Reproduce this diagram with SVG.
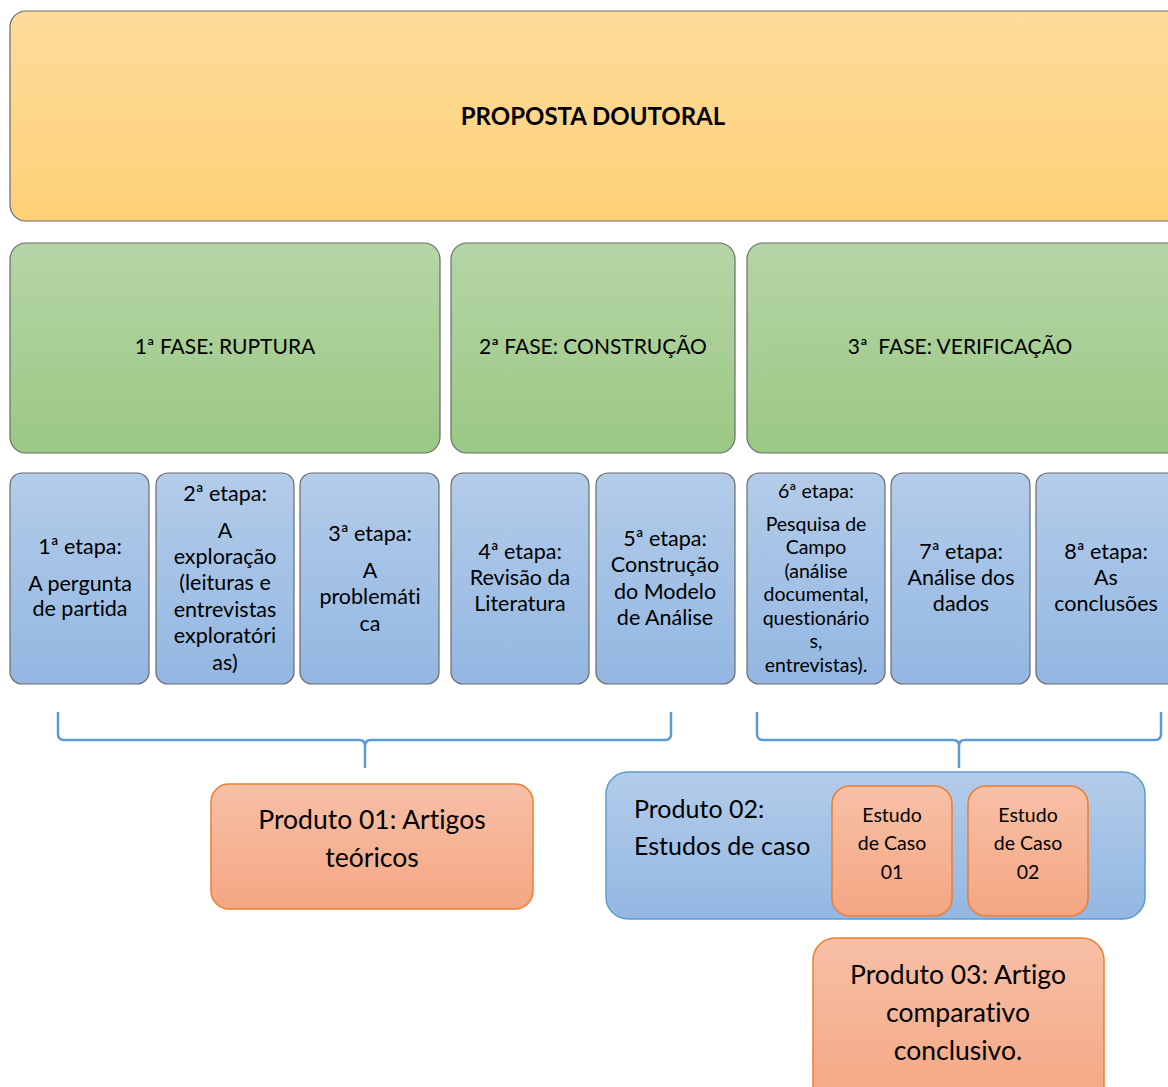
<svg xmlns="http://www.w3.org/2000/svg" width="1168" height="1087" viewBox="0 0 1168 1087">
  <defs>
    <linearGradient id="gGold" x1="0" y1="0" x2="0" y2="1">
      <stop offset="0" stop-color="#fedb9c"/>
      <stop offset="1" stop-color="#fed177"/>
    </linearGradient>
    <linearGradient id="gGreen" x1="0" y1="0" x2="0" y2="1">
      <stop offset="0" stop-color="#b5d5a6"/>
      <stop offset="1" stop-color="#9bc884"/>
    </linearGradient>
    <linearGradient id="gBlue" x1="0" y1="0" x2="0" y2="1">
      <stop offset="0" stop-color="#b3cce9"/>
      <stop offset="1" stop-color="#93b7e2"/>
    </linearGradient>
    <linearGradient id="gOrange" x1="0" y1="0" x2="0" y2="1">
      <stop offset="0" stop-color="#f7c0a6"/>
      <stop offset="1" stop-color="#f4a683"/>
    </linearGradient>
  </defs>
  <style>
    text { font-family: Lato, "Open Sans", "Liberation Sans", sans-serif; fill: #000; text-anchor: middle; font-variant-ligatures: none; font-feature-settings: "liga" 0, "dlig" 0; }
    .gold { fill: url(#gGold); stroke: #6b6b6b; stroke-width: 1.2; }
    .phase { fill: url(#gGreen); stroke: #6b6b6b; stroke-width: 1.2; }
    .stage { fill: url(#gBlue); stroke: #6b6b6b; stroke-width: 1.2; }
    .prod { fill: url(#gOrange); stroke: #ed7d31; stroke-width: 1.5; }
    .prodBlue { fill: url(#gBlue); stroke: #5b9bd5; stroke-width: 1.5; }
    .brace { fill: none; stroke: #5b9bd5; stroke-width: 2.5; }
    .ph { font-size: 21px; }
    .st { font-size: 21.5px; }
    .st6 { font-size: 19.5px; }
    .cs { font-size: 19.5px; }
    .pr { font-size: 26.5px; }
    .pr2 { font-size: 25px; text-anchor: start; }
  </style>

  <!-- Title -->
  <g id="proposta">
    <rect class="gold" x="10" y="11" width="1180" height="210" rx="16"/>
    <text x="593" y="125" font-size="24" font-weight="bold">PROPOSTA DOUTORAL</text>
  </g>

  <!-- Phases -->
  <g id="fase1">
    <rect class="phase" x="10" y="243" width="430" height="210" rx="16"/>
    <text class="ph" x="225" y="354">1ª FASE: RUPTURA</text>
  </g>
  <g id="fase2">
    <rect class="phase" x="451" y="243" width="284" height="210" rx="16"/>
    <text class="ph" x="593" y="354">2ª FASE: CONSTRUÇÃO</text>
  </g>
  <g id="fase3">
    <rect class="phase" x="747" y="243" width="440" height="210" rx="16"/>
    <text class="ph" x="960" y="354" xml:space="preserve">3ª  FASE: VERIFICAÇÃO</text>
  </g>

  <!-- Stages -->
  <g id="etapa1">
    <rect class="stage" x="10" y="473" width="139" height="211" rx="12"/>
    <text class="st" x="80" y="554">1ª etapa:</text>
    <text class="st" x="80" y="591">A pergunta</text>
    <text class="st" x="80" y="616">de partida</text>
  </g>
  <g id="etapa2">
    <rect class="stage" x="156" y="473" width="138" height="211" rx="12"/>
    <text class="st" x="225" y="501">2ª etapa:</text>
    <text class="st" x="225" y="538">A</text>
    <text class="st" x="225" y="564">exploração</text>
    <text class="st" x="225" y="590">(leituras e</text>
    <text class="st" x="225" y="617">entrevistas</text>
    <text class="st" x="225" y="643">exploratóri</text>
    <text class="st" x="225" y="670">as)</text>
  </g>
  <g id="etapa3">
    <rect class="stage" x="300" y="473" width="139" height="211" rx="12"/>
    <text class="st" x="370" y="541">3ª etapa:</text>
    <text class="st" x="370" y="578">A</text>
    <text class="st" x="370" y="604">problemáti</text>
    <text class="st" x="370" y="631">ca</text>
  </g>
  <g id="etapa4">
    <rect class="stage" x="451" y="473" width="138" height="211" rx="12"/>
    <text class="st" x="520" y="559">4ª etapa:</text>
    <text class="st" x="520" y="585">Revisão da</text>
    <text class="st" x="520" y="611">Literatura</text>
  </g>
  <g id="etapa5">
    <rect class="stage" x="596" y="473" width="139" height="211" rx="12"/>
    <text class="st" x="665" y="546">5ª etapa:</text>
    <text class="st" x="665" y="572">Construção</text>
    <text class="st" x="665" y="599">do Modelo</text>
    <text class="st" x="665" y="625">de Análise</text>
  </g>
  <g id="etapa6">
    <rect class="stage" x="747" y="473" width="138" height="211" rx="12"/>
    <text class="st6" x="816" y="498">6ª etapa:</text>
    <text class="st6" x="816" y="531">Pesquisa de</text>
    <text class="st6" x="816" y="554">Campo</text>
    <text class="st6" x="816" y="578">(análise</text>
    <text class="st6" x="816" y="601">documental,</text>
    <text class="st6" x="816" y="625">questionário</text>
    <text class="st6" x="816" y="648">s,</text>
    <text class="st6" x="816" y="672">entrevistas).</text>
  </g>
  <g id="etapa7">
    <rect class="stage" x="891" y="473" width="139" height="211" rx="12"/>
    <text class="st" x="961" y="559">7ª etapa:</text>
    <text class="st" x="961" y="585">Análise dos</text>
    <text class="st" x="961" y="611">dados</text>
  </g>
  <g id="etapa8">
    <rect class="stage" x="1036" y="473" width="150" height="211" rx="12"/>
    <text class="st" x="1106" y="559">8ª etapa:</text>
    <text class="st" x="1106" y="585">As</text>
    <text class="st" x="1106" y="611">conclusões</text>
  </g>

  <!-- Braces grouping the stages into products -->
  <g id="connectors">
    <path class="brace" d="M58 712 V734 Q58 740 64 740 H359 Q365 740 365 746 V768 M365 746 Q365 740 371 740 H665 Q671 740 671 734 V712"/>
    <path class="brace" d="M757 712 V734 Q757 740 763 740 H953 Q959 740 959 746 V768 M959 746 Q959 740 965 740 H1155 Q1161 740 1161 734 V712"/>
  </g>

  <!-- Products -->
  <g id="produto01">
    <rect class="prod" x="211" y="784" width="322" height="125" rx="18"/>
    <text class="pr" x="372" y="829">Produto 01: Artigos</text>
    <text class="pr" x="372" y="867">teóricos</text>
  </g>
  <g id="produto02">
    <rect class="prodBlue" x="606" y="772" width="539" height="147" rx="22"/>
    <text class="pr2" x="634" y="818">Produto 02:</text>
    <text class="pr2" x="634" y="855">Estudos de caso</text>
  </g>
  <g id="caso01">
    <rect class="prod" x="832" y="786" width="120" height="130" rx="18"/>
    <text class="cs" x="892" y="822">Estudo</text>
    <text class="cs" x="892" y="850">de Caso</text>
    <text class="cs" x="892" y="879">01</text>
  </g>
  <g id="caso02">
    <rect class="prod" x="968" y="786" width="120" height="130" rx="18"/>
    <text class="cs" x="1028" y="822">Estudo</text>
    <text class="cs" x="1028" y="850">de Caso</text>
    <text class="cs" x="1028" y="879">02</text>
  </g>
  <g id="produto03">
    <rect class="prod" x="813" y="938" width="291" height="170" rx="22"/>
    <text class="pr" x="958" y="984">Produto 03: Artigo</text>
    <text class="pr" x="958" y="1022">comparativo</text>
    <text class="pr" x="958" y="1060">conclusivo.</text>
  </g>
</svg>
